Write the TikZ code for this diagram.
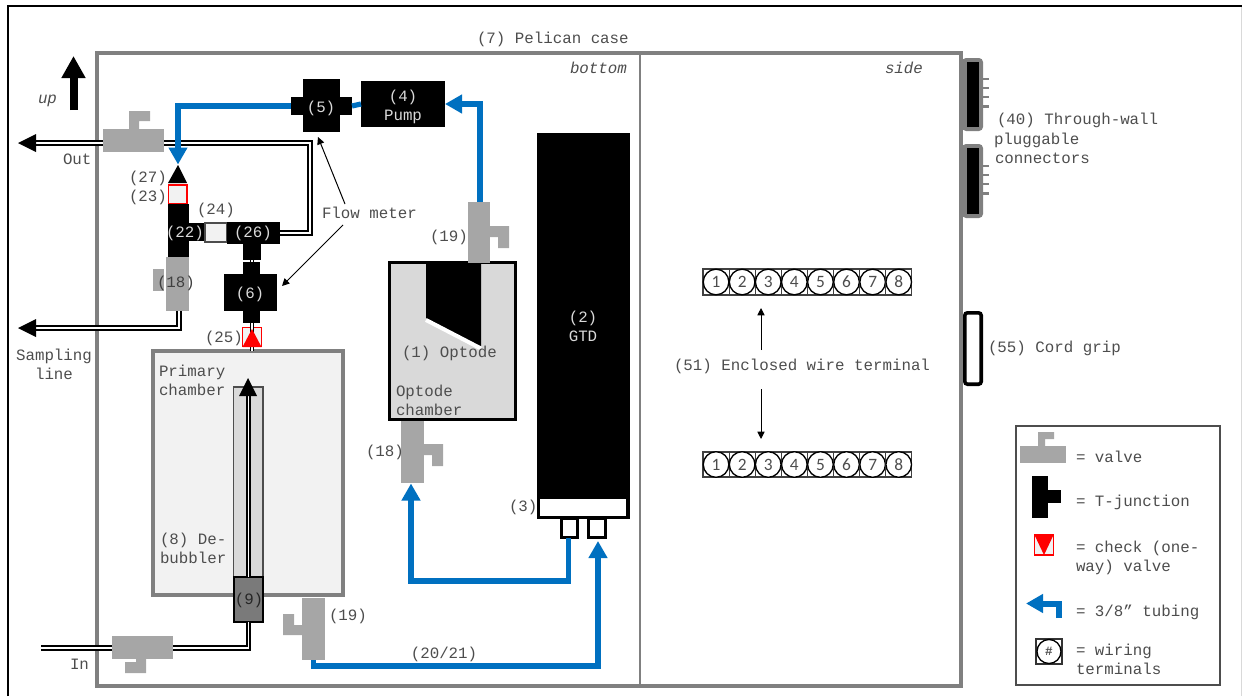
\documentclass[tikz,border=0pt]{standalone}
\usepackage{fontspec}
\setmainfont{Liberation Mono}
\newfontfamily\digitfont{Carlito}
\usetikzlibrary{arrows.meta,calc}
\definecolor{valvegray}{HTML}{A6A6A6}
\definecolor{casegray}{HTML}{808080}
\definecolor{lightfill}{HTML}{F2F2F2}
\definecolor{midfill}{HTML}{D9D9D9}
\definecolor{tubeblue}{HTML}{0070C0}
\definecolor{txtgray}{HTML}{4D4D4D}
\definecolor{red1}{HTML}{FF0000}
\newcommand{\comp}[6]{%
  \pgfmathsetmacro\cw{((#5)-(#3))*0.75}\pgfmathsetmacro\ch{((#6)-(#4))*0.75}%
  \node[#1,minimum width=\cw pt,minimum height=\ch pt,inner sep=0pt,outer sep=0pt] (#2) at ({((#3)+(#5))/2},{((#4)+(#6))/2}) {};}
\newcommand{\labl}[5][]{\node[lbl,#1] (#2) at (#3,#4) {#5};}
\tikzset{
  lbl/.style={anchor=base west,inner sep=0pt,outer sep=0pt,text=txtgray,font=\fontsize{11.85}{14}\selectfont},
  lblc/.style={anchor=base},
  lbli/.style={font=\fontsize{11.85}{14}\selectfont\itshape},
  onblack/.style={text=midfill},
  blackpart/.style={fill=black,draw=none},
  valvepart/.style={fill=valvegray,draw=none},
  bluetube/.style={draw=tubeblue,line width=3.9pt,line join=miter},
  bluearrow/.style={bluetube,-{Triangle[length=12.75pt,width=13.5pt]}},
  wtube/.style={draw=black,line width=1.25pt,double=white,double distance=1.3pt,line join=miter},
  thinarrow/.style={draw=black,line width=0.75pt,-{Triangle[length=5.5pt,width=5.4pt]}},
  casebox/.style={draw=casegray,line width=2.4pt},
  checkbox/.style={draw=red1,fill=lightfill,line width=1pt},
  blackbox/.style={draw=black,line width=2.4pt},
  termcell/.style={draw=black!75,fill=white,line width=0.9pt},
  termcirc/.style={circle,draw=black,fill=white,line width=1pt,inner sep=0pt,minimum size=19.2pt,font=\digitfont\fontsize{13}{14}\selectfont,text=txtgray},
}
\begin{document}
\begin{tikzpicture}[x=0.75pt,y=-0.75pt]
\useasboundingbox (0,0) rectangle (1242,696);
% outer frame
\coordinate (fA) at (8,696); \coordinate (fB) at (8,6); \coordinate (fC) at (1242,6);
\coordinate (fD) at (1241,7); \coordinate (fE) at (1241,696);
\draw[midfill,line width=0.7pt] (fD) -- (fE);
\draw[black,line width=1.9pt] (fA) -- (fB) -- (fC);
% case
\comp{casebox}{case}{97}{53}{961}{686}
\coordinate (divT) at (640,53); \coordinate (divB) at (640,686);
\draw[casegray,line width=2.2pt] (divT) -- (divB);
% up arrow
\coordinate (upS) at (73.5,110); \coordinate (upE) at (73.5,56);
\draw[black,line width=6pt,-{Triangle[length=16.5pt,width=17pt]}] (upS) -- (upE);
\labl[lbli]{lup}{38}{103}{up}
% out tube
\coordinate (outC1) at (310,233); \coordinate (outC2) at (310,143); \coordinate (outH) at (36,143); \coordinate (outT) at (18,143);
% chamber
\comp{casebox,fill=lightfill,line width=3pt}{primary}{153}{351}{343}{595}
% inner tube
\comp{fill=midfill,draw=txtgray,line width=0.8pt}{debub}{233.5}{387}{263}{595}
\comp{blackpart}{n26}{227}{222}{280}{244}
\draw[wtube] (n26.east) -- (outC1) -- (outC2) -- (outH);
\fill[black] (outT) -- ++(18,-9) -- ++(0,18) -- cycle;
% sampling line
\coordinate (sS) at (179,311); \coordinate (sC) at (179,328); \coordinate (sH) at (36,328); \coordinate (sT) at (18,328);
\draw[wtube] (sS) -- (sC) -- (sH);
\fill[black] (sT) -- ++(18,-9) -- ++(0,18) -- cycle;
% in line
\comp{fill=casegray!95!black,draw=black,line width=0.8pt}{n9}{234}{577}{263}{622}
\coordinate (iC) at (248.5,648); \coordinate (iE) at (41,648);
\draw[wtube] (n9.south) -- (iC) -- (iE);
% debubbler inner
\coordinate (dbT) at (248.5,396);
\draw[wtube] (n9.north) -- (dbT);
\fill[black] (248,378) -- (239,396) -- (257,396) -- cycle;
% (25) box, then tube through it
\comp{checkbox}{n25}{242.5}{327.5}{261.5}{346.5}
\coordinate (t6) at (252,323); \coordinate (t6b) at (252,351);
\draw[wtube,line width=0.9pt,double distance=1pt] (t6) -- (t6b);
\fill[red1] (252,329) -- (242.5,347) -- (261.5,347) -- cycle;
\coordinate (t26) at (252,258); \coordinate (t6a) at (252,264);
\draw[wtube,line width=0.9pt,double distance=1pt] (t26) -- (t6a);
% blue lines
\comp{blackpart}{n5w}{291}{97}{352}{115}
\comp{blackpart}{n5}{303}{79}{340}{132}
\comp{blackpart}{pump}{361}{81}{445}{127}
\coordinate (bC1) at (178,106); \coordinate (bT1) at (178,164.5);
\draw[bluearrow] (n5w.west) -- (bC1) -- (bT1);
\draw[bluetube] (n5w.east) -- (pump.west);
% valve top
\comp{valvepart}{vtop}{103}{129}{164}{152}
\fill[valvegray] (129,129) |- (150,111) |- (139,121) |- cycle;
\fill[black] (178,165) -- (168,183) -- (187,183) -- cycle;
\comp{checkbox}{n23}{168.5}{185}{187}{204}
% T junction 22
\comp{blackpart}{n22}{168}{204}{189}{257}
\comp{blackpart}{n22a}{189}{223}{205}{241}
\comp{fill=lightfill,draw=txtgray,line width=0.8pt}{n24}{205}{223}{226.5}{242}
\comp{blackpart}{n26s}{243}{243}{261}{260}
% (18) valve
\comp{valvepart}{v18}{166}{257}{189}{311}
\comp{valvepart}{v18c}{153}{269}{164}{291}
% (6)
\comp{blackpart}{n6t}{243}{262}{260}{274}
\comp{blackpart}{n6}{224}{274}{277}{311}
\comp{blackpart}{n6b}{243}{311}{260}{323}
% GTD
\comp{blackpart}{gtd}{537}{133}{630}{496}
\comp{blackbox,fill=white}{n3}{538.5}{497.5}{628}{517.5}
\comp{blackbox,fill=white}{n3a}{561.5}{518}{577.5}{537.5}
\comp{blackbox,fill=white}{n3b}{588.5}{518}{605.5}{537.5}
% optode chamber
\comp{blackbox,fill=midfill}{optch}{389.5}{262.5}{515.5}{419.5}
\fill[black] (426,264) -- (481,264) -- (481,347) -- (426,318) -- cycle;
\coordinate (opA) at (426,320); \coordinate (opB) at (481,348.5);
\draw[white,line width=3pt] (opA) -- (opB);
% blue: pump
\coordinate (bP1) at (480,104); \coordinate (bP0) at (480,204);
\draw[bluearrow] (bP0) -- (bP1) -- (pump.east |- bP1);
% blue: left port to (18)
\coordinate (bL1) at (568.5,581); \coordinate (bL2) at (411,581); \coordinate (bL3) at (411,483.5);
\draw[bluearrow] (n3a.south -| bL1) -- (bL1) -- (bL2) -- (bL3);
% valves
\comp{valvepart}{v19a}{468}{202}{490}{263}
\fill[valvegray] (490,226) -| (509,248) -| (498,237) -| cycle;
\comp{valvepart}{v18b}{401}{421}{424}{483}
\fill[valvegray] (424,444) -| (443,466) -| (432,455) -| cycle;
\comp{valvepart}{vin}{112}{636}{173}{659}
\fill[valvegray] (136,659) -- (146,659) -- (146,673) -- (125,673) -- (125,662) -- (136,662) -- cycle;
% lower 19 and blue
\coordinate (bB0) at (313.5,655); \coordinate (bB1) at (313.5,666); \coordinate (bB2) at (598,666); \coordinate (bB3) at (598,541);
\draw[bluearrow] (bB0) -- (bB1) -- (bB2) -- (bB3);
\comp{valvepart}{v19b}{302}{598}{325}{660}
\fill[valvegray] (302,621) -- (302,635) -- (283,635) -- (283,614) -- (294,614) -- (294,625) -- (302,625) -- cycle;
% flow meter arrows
\labl{lflow}{322}{218}{Flow meter}
\coordinate (fa1) at (345,204); \coordinate (fa1t) at (318,137);
\coordinate (fa2) at (343,225); \coordinate (fa2t) at (282,286);
\draw[thinarrow] (fa1) -- (fa1t);
\draw[thinarrow] (fa2) -- (fa2t);
% labels on black
\labl[lblc,onblack]{l5}{321}{112}{(5)}
\labl[lblc,onblack]{l4}{403}{101}{(4)}
\labl[lblc,onblack]{lpump}{403}{120}{Pump}
\labl[lblc,onblack]{l2}{583}{322}{(2)}
\labl[lblc,onblack]{lgtd}{583}{341}{GTD}
\labl[onblack]{l22}{166}{237}{(22)}
\labl[onblack]{l26}{234}{237}{(26)}
\labl[lblc,onblack]{l6}{250}{298}{(6)}
% other labels
\labl{lcase}{477}{43}{(7) Pelican case}
\labl[lbli]{lbot}{570}{73}{bottom}
\labl[lbli]{lside}{885}{73}{side}
\labl{lout}{63}{164}{Out}
\labl{l27}{129}{182}{(27)}
\labl{l23}{129}{201}{(23)}
\labl{l24}{197}{214}{(24)}
\labl[text=black!75]{l18a}{157}{287}{(18)}
\labl{l25}{205}{342}{(25)}
\labl{l19a}{430}{241}{(19)}
\labl{lopt}{402}{357}{(1) Optode}
\labl{lop1}{396}{396}{Optode}
\labl{lop2}{396}{415}{chamber}
\labl{l18b}{366}{456}{(18)}
\labl{l3}{509}{511}{(3)}
\labl{lpc1}{159}{376}{Primary}
\labl{lpc2}{159}{395}{chamber}
\labl{ld1}{160}{544}{(8) De-}
\labl{ld2}{160}{563}{bubbler}
\labl[lblc,text=black!85]{l9}{249}{604}{(9)}
\labl{l19b}{329}{620}{(19)}
\labl{lin}{70}{669}{In}
\labl[lblc]{l2021}{444}{658}{(20/21)}
\labl[lblc]{ls1}{54}{360}{Sampling}
\labl[lblc]{ls2}{54}{379}{line}
% right side: connectors
\foreach \n/\a/\b/\pa in {A/58/131/79,B/144/218/166}{
  \comp{fill=casegray,draw=none,rounded corners=3pt}{conn\n}{962}{\a}{983}{\b}
  \comp{blackpart}{conni\n}{967}{\a+4}{979}{\b-4}
  \foreach \k in {0,1,2,3}{
    \coordinate (p\n\k a) at (982,\pa+\k*9.1);
    \coordinate (p\n\k b) at (989,\pa+\k*9.1);
    \draw[casegray,line width=1.9pt] (p\n\k a) -- (p\n\k b);
  }
}
\comp{draw=black,fill=white,line width=2.7pt,rounded corners=2pt}{grip}{964.8}{312.8}{981.2}{384.2}
\labl{l40a}{997}{124}{(40) Through-wall}
\labl{l40b}{994}{144}{pluggable}
\labl{l40c}{995}{163}{connectors}
\labl{l55}{988}{352}{(55) Cord grip}
\labl{l51}{674}{370}{(51) Enclosed wire terminal}
% terminals
\foreach \r/\ya/\yb in {A/269/295,B/452/477}{
  \foreach \i in {1,...,8}{
    \pgfmathsetmacro\xa{703+(\i-1)*26.1}\pgfmathsetmacro\xb{\xa+26.1}
    \comp{termcell}{cell\r\i}{\xa}{\ya}{\xb}{\yb}
    \node[termcirc] (t\r\i) at (cell\r\i.center) {\i};
  }
}
\coordinate (a51a) at (761,350); \coordinate (a51c) at (761,308);
\draw[thinarrow] (a51a) -- (a51c);
\coordinate (a51t) at (761,389); \coordinate (a51b) at (761,439);
\draw[thinarrow] (a51t) -- (a51b);
% legend
\comp{draw=txtgray,fill=white,line width=1pt}{legend}{1016}{426}{1220}{685}
\comp{valvepart}{lgv}{1020}{446}{1066}{463}
\fill[valvegray] (1038,446) -- (1038,432) -- (1054,432) -- (1054,439) -- (1045,439) -- (1045,446) -- cycle;
\comp{blackpart}{lgt}{1032}{476}{1048}{518}
\comp{blackpart}{lgta}{1048}{490}{1061}{503}
\comp{checkbox}{lgc}{1034.5}{535}{1053.5}{555}
\fill[red1] (1034.5,535) -- (1053.5,535) -- (1044,555) -- cycle;
\coordinate (lgb1) at (1059,618); \coordinate (lgb2) at (1059,603.5); \coordinate (lgb3) at (1026,603.5);
\draw[bluearrow,line width=4.5pt,-{Triangle[length=12.75pt,width=13.5pt]}] (lgb1) -- (lgb2) -- (lgb3);
\comp{draw=black!80,fill=white,line width=1.1pt}{lgw}{1036}{639}{1062}{664}
\node[termcirc,minimum size=18pt,font=\fontsize{9.5}{10}\selectfont\bfseries] (lgwc) at (lgw.center) {\#};
\labl{lg1}{1076}{462}{= valve}
\labl{lg2}{1076}{506}{= T-junction}
\labl{lg3}{1076}{552}{= check (one-}
\labl{lg4}{1076}{571}{way) valve}
\labl{lg5}{1076}{616}{= 3/8” tubing}
\labl{lg6}{1076}{655}{= wiring}
\labl{lg7}{1076}{674}{terminals}
\end{tikzpicture}
\end{document}
